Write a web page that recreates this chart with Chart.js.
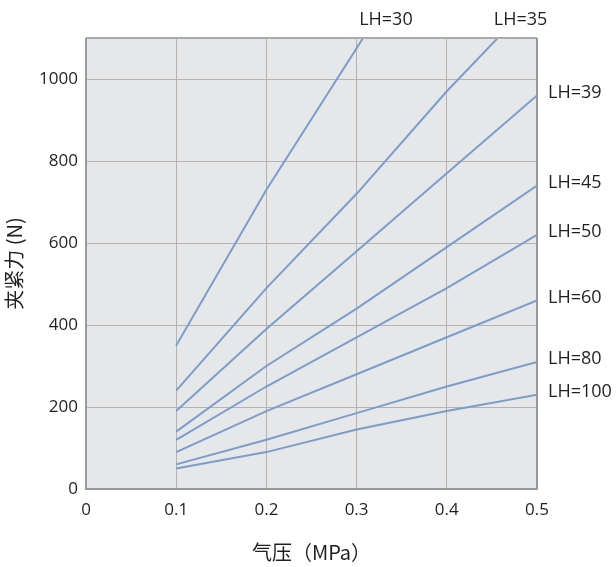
<!DOCTYPE html>
<html><head><meta charset="utf-8">
<script src="https://cdn.jsdelivr.net/npm/chart.js@4.4.1/dist/chart.umd.min.js"></script>
<style>html,body{margin:0;padding:0;background:#fff}</style>
</head><body>
<canvas id="c" width="616" height="567"></canvas>
<script>
const pressures = [0.1, 0.2, 0.3, 0.4, 0.5];
const seriesNames = ['LH=30', 'LH=35', 'LH=39', 'LH=45', 'LH=50', 'LH=60', 'LH=80', 'LH=100'];
const lh30  = [350, 730, 1075, 1420, null];
const lh35  = [240, 490, 720, 970, 1200];
const lh39  = [190, 390, 580, 770, 960];
const lh45  = [140, 300, 440, 590, 740];
const lh50  = [120, 250, 370, 490, 620];
const lh60  = [90, 190, 280, 370, 460];
const lh80  = [60, 120, 185, 250, 310];
const lh100 = [50, 90, 145, 190, 230];
const xTicks = [0, 0.1, 0.2, 0.3, 0.4, 0.5];
const yTicks = [0, 200, 400, 600, 800, 1000];
const xTitle = '气压（MPa）';
const yTitle = '夹紧力 (N)';

const allSeries = [lh30, lh35, lh39, lh45, lh50, lh60, lh80, lh100];
const LINE = '#7b9dcb';
const TEXT = '#231f20';
const FONT = '"Open Sans", "Noto Sans", sans-serif';
const CJK = '"Noto Sans CJK SC", sans-serif';

const datasets = allSeries.map((vals, i) => ({
  label: seriesNames[i],
  data: pressures.map((p, j) => ({ x: p, y: vals[j] })).filter(d => d.y !== null),
  borderColor: LINE,
  borderWidth: 2,
  pointRadius: 0,
  tension: 0,
  fill: false,
  clip: 0
}));

const framePlugin = {
  id: 'frame',
  beforeDraw(chart) {
    const a = chart.chartArea, ctx = chart.ctx;
    ctx.save();
    ctx.fillStyle = '#e6e7e9';
    ctx.fillRect(a.left, a.top, a.right - a.left, a.bottom - a.top);
    ctx.restore();
  },
  afterDatasetsDraw(chart) {
    const a = chart.chartArea, ctx = chart.ctx;
    ctx.save();
    ctx.lineWidth = 2;
    ctx.strokeStyle = '#aaaaaa';
    ctx.beginPath(); ctx.moveTo(a.left, a.top); ctx.lineTo(a.right, a.top); ctx.stroke();
    ctx.strokeStyle = '#9a9a9a';
    ctx.beginPath();
    ctx.moveTo(a.right, a.top); ctx.lineTo(a.right, a.bottom);
    ctx.lineTo(a.left, a.bottom); ctx.lineTo(a.left, a.top);
    ctx.stroke();
    // series labels
    ctx.fillStyle = TEXT;
    ctx.font = '18px ' + FONT;
    ctx.textAlign = 'left';
    ctx.textBaseline = 'middle';
    const xs = chart.scales.x, ys = chart.scales.y;
    const yMax = ys.max;
    chart.data.datasets.forEach(ds => {
      const pts = ds.data;
      const crossIdx = pts.findIndex(p => p.y > yMax);
      if (crossIdx > 0) {
        const p0 = pts[crossIdx - 1], p1 = pts[crossIdx];
        const xc = p0.x + (yMax - p0.y) / (p1.y - p0.y) * (p1.x - p0.x);
        ctx.fillText(ds.label, xs.getPixelForValue(xc) - 4, a.top - 18);
      } else {
        const last = pts[pts.length - 1];
        ctx.fillText(ds.label, a.right + 11, ys.getPixelForValue(last.y) - 3);
      }
    });
    ctx.restore();
  }
};

new Chart(document.getElementById('c'), {
  type: 'line',
  data: { datasets },
  options: {
    responsive: false,
    animation: false,
    devicePixelRatio: 1,
    layout: { padding: { top: 38, right: 79, left: 0, bottom: 0 } },
    plugins: { legend: { display: false }, tooltip: { enabled: false } },
    scales: {
      x: {
        type: 'linear',
        min: 0, max: 0.5,
        afterBuildTicks(s) { s.ticks = xTicks.map(v => ({ value: v })); },
        afterFit(s) { s.height = 78; },
        grid: { color: '#b3b3b3', lineWidth: 1, drawTicks: false },
        border: { display: false },
        ticks: { color: TEXT, font: { size: 17, family: FONT }, padding: 11, maxRotation: 0,
                 callback: v => String(Math.round(v * 10) / 10) },
        title: { display: true, text: xTitle, color: TEXT,
                 font: { size: 20, family: CJK }, padding: { top: 0, bottom: 3 } }
      },
      y: {
        type: 'linear',
        min: 0, max: 1100,
        afterBuildTicks(s) { s.ticks = yTicks.map(v => ({ value: v })); },
        afterFit(s) { s.width = 86; },
        grid: { color: '#b3b3b3', lineWidth: 1, drawTicks: false },
        border: { display: false },
        ticks: { color: TEXT, font: { size: 17, family: FONT }, padding: 8,
                 callback: v => String(v) },
        title: { display: true, text: yTitle, color: TEXT,
                 font: { size: 20, family: CJK }, padding: { top: 2, bottom: 0 } }
      }
    }
  },
  plugins: [framePlugin]
});
</script>
</body></html>
